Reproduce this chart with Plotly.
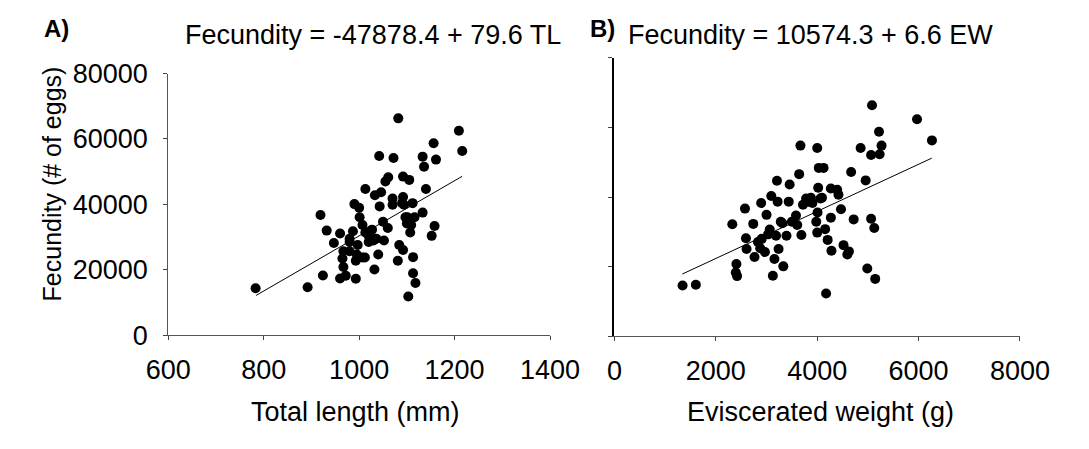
import plotly.graph_objects as go

# Panel A: total length (mm) vs fecundity
tl_a = [783, 892, 924, 919, 932, 947, 960, 960, 972, 967, 965, 967, 980, 987, 993, 993, 995,
        990, 1000, 1001, 1007, 1013, 1012, 1013, 1020, 1027, 1030, 1032, 1033, 1040, 1042, 1043,
        1046, 1050, 1052, 1055, 1061, 1070, 1072, 1070, 1081, 1082, 1084, 1092, 1092, 1092, 1097,
        1100, 1105, 1107, 1103, 1112, 1113, 1113, 1118, 1116, 1133, 1133, 1136, 1140, 1152, 1156,
        1158, 1161, 1209, 1216, 1020, 1023, 1036, 1007, 997, 980, 1060, 1090, 1101, 1109, 1094, 980]
fec_a = [14400, 14700, 18300, 36800, 32000, 28200, 31100, 17400, 18200, 25700, 23500, 20900,
         29500, 31800, 17300, 22800, 24700, 40100, 39000, 36100, 33700, 44700, 23800, 31400,
         30400, 32300, 29000, 20100, 42800, 24700, 54800, 39400, 43700, 34700, 29000, 47000,
         48300, 41800, 54200, 39900, 22800, 66300, 27600, 48500, 26100, 42300, 36100, 34200,
         47500, 31400, 11900, 40400, 23900, 19000, 16000, 36100, 37500, 54600, 51500, 44700,
         30400, 58700, 33400, 53700, 62500, 56300, 28500, 31800, 29500, 23800, 27600, 25700,
         32800, 40400, 36100, 33700, 39900, 28500]
line_a_x = [784, 1216]
line_a_y = [12200, 48600]

# Panel B: eviscerated weight (g) vs fecundity
ew_b = [1344, 1606, 2325, 2406, 2394, 2419, 2575, 2594, 2606, 2738, 2763, 2831, 2894, 2875, 2969,
        3000, 3031, 3094, 3125, 3156, 3188, 3206, 3219, 3238, 3281, 3331, 3394, 3456, 3438, 3500,
        3581, 3644, 3669, 3688, 3719, 3781, 3831, 3875, 3981, 4000, 4019, 4006, 4031, 4000, 4063,
        4125, 4156, 4175, 4206, 4269, 4281, 4269, 4394, 4419, 4469, 4519, 4594, 4625, 4669, 4719,
        4856, 4956, 4988, 5063, 5081, 5063, 5125, 5144, 5219, 5231, 5269, 5969, 6263,
        2906, 3063, 3313, 3606, 3906, 4094]
fec_b = [14600, 14800, 32200, 20800, 18300, 17300, 36700, 28200, 25100, 32300, 22800, 27100,
         38300, 25300, 24200, 34900, 29300, 40300, 17400, 22200, 28900, 44700, 38700, 25100,
         32900, 20100, 28900, 43600, 38700, 32900, 34700, 46600, 54800, 29100, 37800, 39600,
         38700, 39800, 32900, 54100, 42700, 35600, 48400, 29800, 39600, 48400, 30800, 12300,
         27700, 34100, 24600, 42500, 42100, 40700, 36500, 26200, 23500, 24400, 47200, 33600,
         54100, 44800, 19500, 33800, 66400, 52100, 31100, 16500, 58800, 52300, 54800, 62400,
         56300, 28000, 30700, 32500, 32000, 38300, 39800]
line_b_x = [1340, 6260]
line_b_y = [17900, 51200]

x_ticks_a = [600, 800, 1000, 1200, 1400]
x_ticks_b = [0, 2000, 4000, 6000, 8000]
y_ticks = [0, 20000, 40000, 60000, 80000]
y_tick_labels = ["0", "20000", "40000", "60000", "80000"]

FONT = "Liberation Sans, Arial, sans-serif"
W, H = 1089, 449

fig = go.Figure()
fig.add_trace(go.Scatter(x=tl_a, y=fec_a, mode="markers", xaxis="x", yaxis="y",
                         marker=dict(color="black", size=10), showlegend=False))
fig.add_trace(go.Scatter(x=line_a_x, y=line_a_y, mode="lines", xaxis="x", yaxis="y",
                         line=dict(color="black", width=1), showlegend=False))
fig.add_trace(go.Scatter(x=ew_b, y=fec_b, mode="markers", xaxis="x2", yaxis="y2",
                         marker=dict(color="black", size=10), showlegend=False))
fig.add_trace(go.Scatter(x=line_b_x, y=line_b_y, mode="lines", xaxis="x2", yaxis="y2",
                         line=dict(color="black", width=1), showlegend=False))

tickfont = dict(family=FONT, size=27, color="black")
common = dict(showgrid=False, zeroline=False, ticks="outside", ticklen=4,
              tickcolor="#444", tickfont=tickfont, showline=True)

fig.update_layout(
    width=W, height=H, autosize=False,
    margin=dict(l=0, r=0, t=0, b=0),
    paper_bgcolor="white", plot_bgcolor="white",
    font=dict(family=FONT, color="black"),
    xaxis=dict(domain=[152.7 / W, 554 / W], range=[600, 1400], tickvals=x_ticks_a,
               linecolor="#555", linewidth=1, anchor="y", ticklabelstandoff=6, **common),
    yaxis=dict(domain=[1 - 343.3 / H, 1 - 62.7 / H], range=[0, 80000], tickvals=y_ticks,
               ticktext=y_tick_labels, linecolor="#555", linewidth=1, anchor="x",
               ticklabelstandoff=10, **common),
    xaxis2=dict(domain=[621.7 / W, 1048 / W], range=[0, 8000], tickvals=x_ticks_b,
                linecolor="#555", linewidth=1, anchor="y2", ticklabelstandoff=6, **common),
    yaxis2=dict(domain=[1 - 344.3 / H, 1 - 46 / H], range=[0, 80000], tickvals=y_ticks,
                showticklabels=False, linecolor="black", linewidth=2, anchor="x2", **common),
)

ann = [
    dict(text="<b>A)</b>", x=20 / W, y=1 - 15 / H, xanchor="left", size=24),
    dict(text="<b>B)</b>", x=594 / W, y=1 - 14 / H, xanchor="left", size=24),
    dict(text="Fecundity = -47878.4 + 79.6 TL", x=368 / W, y=1 - 21 / H, xanchor="center",
         size=27),
    dict(text="Fecundity = 10574.3 + 6.6 EW", x=828 / W, y=1 - 21 / H, xanchor="center",
         size=27),
    dict(text="Total length (mm)", x=350 / W, y=1 - 425 / H, xanchor="center", size=27),
    dict(text="Eviscerated weight (g)", x=838 / W, y=1 - 425 / H, xanchor="center", size=27),
]
for a in ann:
    fig.add_annotation(text=a["text"], x=a["x"], y=a["y"], xref="paper", yref="paper",
                       xanchor=a["xanchor"], yanchor="middle", showarrow=False,
                       font=dict(family=FONT, size=a["size"], color="black"))
fig.add_annotation(text="Fecundity (# of eggs)", x=30 / W, y=1 - 181 / H, xref="paper",
                   yref="paper", textangle=-90, showarrow=False, xanchor="center",
                   yanchor="middle", font=dict(family=FONT, size=25, color="black"))

fig.write_html("out.html")
